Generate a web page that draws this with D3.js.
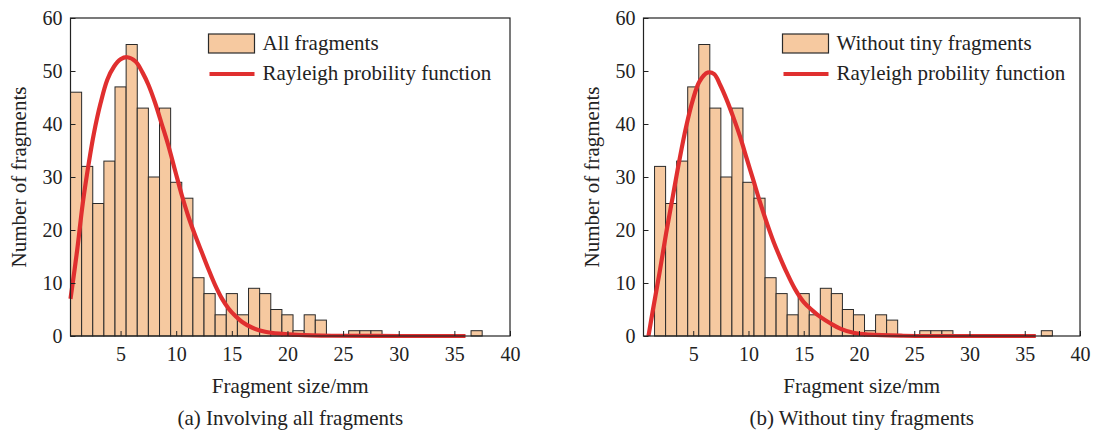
<!DOCTYPE html>
<html>
<head>
<meta charset="utf-8">
<script src="https://cdn.jsdelivr.net/npm/d3@7/dist/d3.min.js"></script>
<style>
  html, body { margin: 0; padding: 0; background: #fff; }
  svg { display: block; }
  text { font-family: "Liberation Serif", "Times New Roman", serif; fill: #222; }
</style>
</head>
<body>
<svg id="chart" width="1095" height="432"></svg>
<script>
// ---------- data ----------
const binCentersAll = [1,2,3,4,5,6,7,8,9,10,11,12,13,14,15,16,17,18,19,20,21,22,23,24,25,26,27,28,29,30,31,32,33,34,35,36,37];
const countsAll     = [46,32,25,33,47,55,43,30,43,29,26,11,8,4,8,4,9,8,5,4,1,4,3,0,0,1,1,1,0,0,0,0,0,0,0,0,1];

const binCentersNoTiny = [2,3,4,5,6,7,8,9,10,11,12,13,14,15,16,17,18,19,20,21,22,23,24,25,26,27,28,29,30,31,32,33,34,35,36,37];
const countsNoTiny     = [32,25,33,47,55,43,30,43,29,26,11,8,4,8,4,9,8,5,4,1,4,3,0,0,1,1,1,0,0,0,0,0,0,0,0,1];

// Fitted curve (x = size, y = count)
const curveAllX = [0.5,1.1,1.6,2.14,2.6,3.2,3.8,4.4,5.0,5.6,6.35,7.0,7.5,8.1,8.7,9.3,9.93,10.5,11.1,11.7,12.3,12.9,13.5,14.1,14.7,15.3,15.9,16.8,18.0,19.5,21,24,30,36];
const curveAllY = [7.0,16.2,25,32.6,38.2,43.9,48.3,50.8,52.2,52.6,51.8,49.6,47.4,44.0,40.0,35.9,31.0,26.6,22.5,19.0,15.8,12.6,9.6,7.1,5.2,3.8,2.7,1.6,0.8,0.4,0.2,0.05,0,0];

const curveNoTinyX = [0.95,1.35,1.94,2.55,3.15,3.75,4.36,4.96,5.56,6.32,6.9,7.43,8.04,8.64,9.24,9.85,10.44,11.05,11.65,12.25,12.86,13.5,14.2,15.0,15.8,16.5,17.4,18.3,19.5,21,24,30,36];
const curveNoTinyY = [0,4.9,11.8,19.4,26.3,33.2,39.5,44.5,48.0,49.7,49.4,47.4,44.5,41.2,37.6,33.4,29.4,25.2,21.4,17.9,14.8,11.8,8.9,6.4,4.8,3.6,2.4,1.4,0.6,0.25,0.05,0,0];

const xTicks = [5,10,15,20,25,30,35,40];
const yTicks = [0,10,20,30,40,50,60];
const xDomain = [0.5, 40];
const yDomain = [0, 60];

const xTitle = "Fragment size/mm";
const yTitle = "Number of fragments";
const legendBar = ["All fragments", "Without tiny fragments"];
const legendLine = "Rayleigh probility function";
const captions = ["(a) Involving all fragments", "(b) Without tiny fragments"];

// ---------- drawing ----------
const svg = d3.select("#chart");
const BAR_FILL = "#f6c9a0";
const RED = "#e02f2f";

function panel(opt) {
  const g = svg.append("g");
  const x = d3.scaleLinear().domain(xDomain).range([opt.left, opt.right]);
  const y = d3.scaleLinear().domain(yDomain).range([opt.bottom, opt.top]);

  // bars
  const bars = opt.centers.map((c, i) => ({c, v: opt.counts[i]})).filter(d => d.v > 0);
  g.selectAll("rect.bar").data(bars).enter().append("rect")
    .attr("class", "bar")
    .attr("x", d => x(d.c - 0.5))
    .attr("width", d => x(d.c + 0.5) - x(d.c - 0.5))
    .attr("y", d => y(d.v))
    .attr("height", d => y(0) - y(d.v))
    .attr("fill", BAR_FILL)
    .attr("stroke", "#2a2a2a")
    .attr("stroke-width", 1);

  // curve
  const pts = opt.curveX.map((cx, i) => [cx, opt.curveY[i]]);
  const line = d3.line().x(d => x(d[0])).y(d => y(d[1])).curve(d3.curveCatmullRom.alpha(0.5));
  g.append("path").datum(pts)
    .attr("d", line)
    .attr("fill", "none")
    .attr("stroke", RED)
    .attr("stroke-width", 4.2)
    .attr("stroke-linecap", "butt");

  // axes (ticks inward)
  const xAxis = d3.axisBottom(x).tickValues(xTicks).tickSize(-5).tickPadding(11).tickFormat(d3.format("d"));
  const yAxis = d3.axisLeft(y).tickValues(yTicks).tickSize(-5).tickPadding(8).tickFormat(d3.format("d"));
  const gx = g.append("g").attr("transform", `translate(0,${opt.bottom})`).call(xAxis);
  const gy = g.append("g").attr("transform", `translate(${opt.left},0)`).call(yAxis);
  [gx, gy].forEach(a => {
    a.select(".domain").remove();
    a.selectAll("line").attr("stroke", "#222");
    a.selectAll("text").style("font-family", '"Liberation Serif", serif').style("font-size", "20px").attr("fill", "#222");
  });
  // frame
  g.append("rect")
    .attr("x", opt.left).attr("y", opt.top)
    .attr("width", opt.right - opt.left).attr("height", opt.bottom - opt.top)
    .attr("fill", "none").attr("stroke", "#222").attr("stroke-width", 1.2);

  // titles
  g.append("text")
    .attr("x", (opt.left + opt.right) / 2).attr("y", 393)
    .attr("text-anchor", "middle").style("font-size", "21px")
    .text(xTitle);
  g.append("text")
    .attr("transform", `translate(${opt.left - 45},${(opt.top + opt.bottom) / 2}) rotate(-90)`)
    .attr("text-anchor", "middle").style("font-size", "21px")
    .text(yTitle);
  g.append("text")
    .attr("x", (opt.left + opt.right) / 2).attr("y", 425)
    .attr("text-anchor", "middle").style("font-size", "21px")
    .text(opt.caption);

  // legend
  const lx = opt.left + opt.legendDx;
  g.append("rect")
    .attr("x", lx).attr("y", 34).attr("width", 46).attr("height", 19)
    .attr("fill", BAR_FILL).attr("stroke", "#2a2a2a").attr("stroke-width", 1.2);
  g.append("text").attr("x", lx + 54).attr("y", 50).style("font-size", "21px").text(opt.legendText);
  g.append("line")
    .attr("x1", lx + 1).attr("x2", lx + 46).attr("y1", 74).attr("y2", 74)
    .attr("stroke", RED).attr("stroke-width", 4.2);
  g.append("text").attr("x", lx + 54).attr("y", 80).style("font-size", "21px").text(legendLine);
}

panel({
  left: 70.5, right: 510, top: 18, bottom: 336,
  centers: binCentersAll, counts: countsAll,
  curveX: curveAllX, curveY: curveAllY,
  legendDx: 138, legendText: legendBar[0], caption: captions[0]
});
panel({
  left: 643.5, right: 1080, top: 18, bottom: 336,
  centers: binCentersNoTiny, counts: countsNoTiny,
  curveX: curveNoTinyX, curveY: curveNoTinyY,
  legendDx: 139, legendText: legendBar[1], caption: captions[1]
});
</script>
</body>
</html>
